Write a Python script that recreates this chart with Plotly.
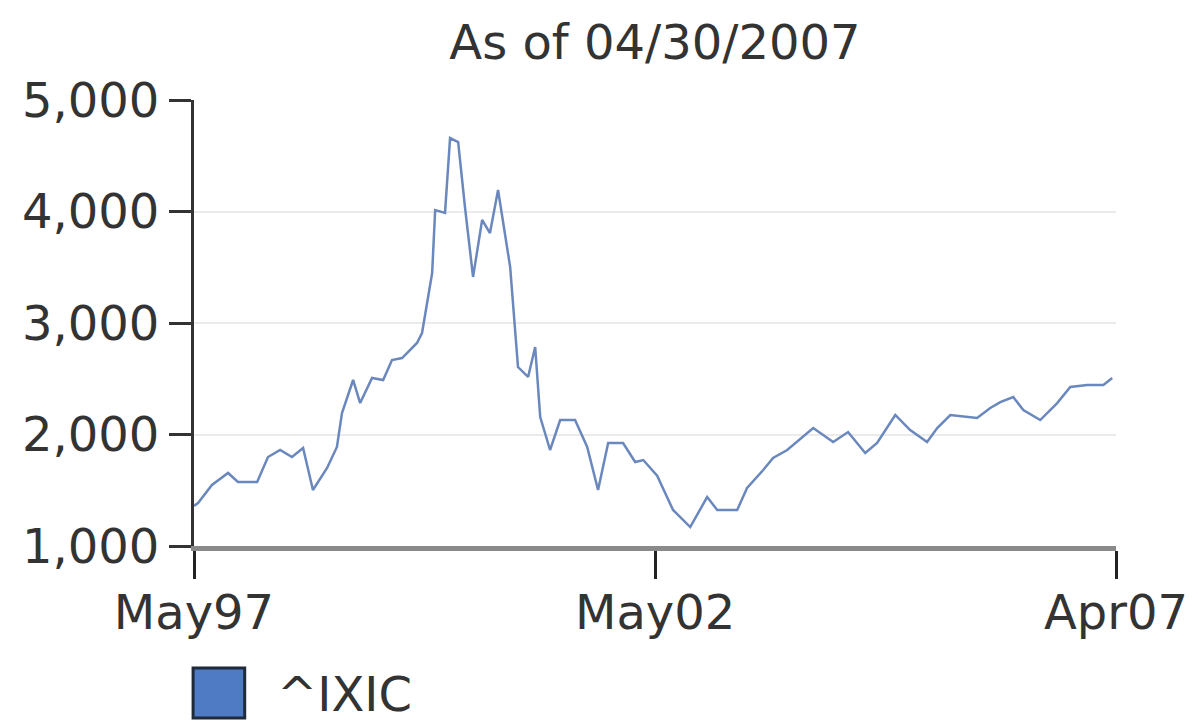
import plotly.graph_objects as go

# ^IXIC (Nasdaq Composite) approximate levels
dates = [
    "1997-05-01", "1997-05-17", "1997-07-11", "1997-09-13", "1997-10-22", "1998-01-06",
    "1998-02-18", "1998-04-07", "1998-05-24", "1998-07-07", "1998-08-15", "1998-10-10",
    "1998-11-18", "1998-12-08", "1999-01-21", "1999-02-18", "1999-04-06", "1999-05-20",
    "1999-06-24", "1999-08-03", "1999-10-01", "1999-10-21", "1999-11-10", "1999-11-30",
    "1999-12-12", "2000-01-20", "2000-02-09", "2000-03-12", "2000-04-08", "2000-05-10",
    "2000-06-15", "2000-07-16", "2000-08-17", "2000-10-04", "2000-11-04", "2000-12-14",
    "2001-01-11", "2001-01-31", "2001-03-11", "2001-04-20", "2001-06-18", "2001-08-05",
    "2001-09-17", "2001-10-27", "2001-12-25", "2002-02-11", "2002-03-15", "2002-05-09",
    "2002-07-11", "2002-09-17", "2002-11-23", "2003-01-02", "2003-03-22", "2003-04-30",
    "2003-07-03", "2003-08-11", "2003-10-06", "2003-11-14", "2004-01-17", "2004-04-05",
    "2004-06-03", "2004-08-10", "2004-09-26", "2004-12-07", "2005-02-04", "2005-04-12",
    "2005-05-22", "2005-07-13", "2005-09-18", "2005-10-27", "2005-12-18", "2006-01-27",
    "2006-03-19", "2006-04-28", "2006-07-04", "2006-09-09", "2006-10-31", "2007-01-06",
    "2007-03-11", "2007-04-15",
]
values = [
    1360, 1385, 1547, 1655, 1574, 1574,
    1798, 1861, 1798, 1879, 1502, 1700,
    1888, 2193, 2489, 2282, 2507, 2489,
    2668, 2686, 2821, 2910, 3179, 3448,
    4013, 3987, 4659, 4623, 4040, 3413,
    3924, 3807, 4193, 3502, 2605, 2516,
    2785, 2157, 1861, 2130, 2130, 1888,
    1502, 1924, 1924, 1753, 1771, 1630,
    1323, 1170, 1439, 1323, 1323, 1520,
    1682, 1789, 1861, 1933, 2058, 1933,
    2022, 1834, 1924, 2175, 2040, 1933,
    2058, 2175, 2157, 2148, 2238, 2291,
    2336, 2220, 2130, 2282, 2426, 2444,
    2444, 2507,
]
series_name = "^IXIC"
title_text = "As of 04/30/2007"
x_tick_vals = ["1997-05-01", "2002-05-01", "2007-04-30"]
x_tick_text = ["May97", "May02", "Apr07"]
y_tick_vals = [1000, 2000, 3000, 4000, 5000]
y_tick_text = ["1,000", "2,000", "3,000", "4,000", "5,000"]

FONT = "DejaVu Sans, Verdana, sans-serif"
TXT = "#333333"

fig = go.Figure()
fig.add_trace(go.Scatter(
    x=dates, y=values, mode="lines", name=series_name,
    line=dict(color="#6a88bd", width=2.5), showlegend=False,
))

fig.update_layout(
    width=1196, height=722,
    margin=dict(l=194, r=80, t=100, b=176, autoexpand=False),
    paper_bgcolor="white", plot_bgcolor="white",
    font=dict(family=FONT, size=48, color=TXT),
    title=dict(text=title_text, x=0.5, xref="paper", y=1 - 42 / 722, yref="container",
               xanchor="center", yanchor="middle", font=dict(size=48, color=TXT)),
    xaxis=dict(
        type="date", range=["1997-05-01", "2007-04-30"],
        tickvals=x_tick_vals, ticktext=x_tick_text,
        showgrid=False, zeroline=False, automargin=False,
        showline=True, linecolor="#8a8a8a", linewidth=5,
        ticks="outside", ticklen=28, tickwidth=3, tickcolor="#222222",
        ticklabelstandoff=-8,
        tickfont=dict(size=48, color=TXT),
    ),
    yaxis=dict(
        range=[1000, 5000], tickvals=y_tick_vals, ticktext=y_tick_text,
        showgrid=True, gridcolor="#ebebeb", gridwidth=2, zeroline=False, automargin=False,
        showline=True, linecolor="#333333", linewidth=3,
        ticks="outside", ticklen=22, tickwidth=3, tickcolor="#333333",
        tickfont=dict(size=48, color=TXT),
    ),
    showlegend=False,
)

# legend swatch and label (drawn manually to get a large square key)
fig.add_shape(type="rect", xref="paper", yref="paper",
              x0=-0.001, x1=0.055, y0=-0.2735, y1=-0.3857,
              fillcolor="#4f7bc4", line=dict(color="#1f2a3a", width=3))
fig.add_annotation(text=series_name, xref="paper", yref="paper",
                   x=0.088, y=-0.332, xanchor="left", yanchor="middle",
                   showarrow=False, font=dict(size=48, color=TXT))

fig.write_html("out.html")
